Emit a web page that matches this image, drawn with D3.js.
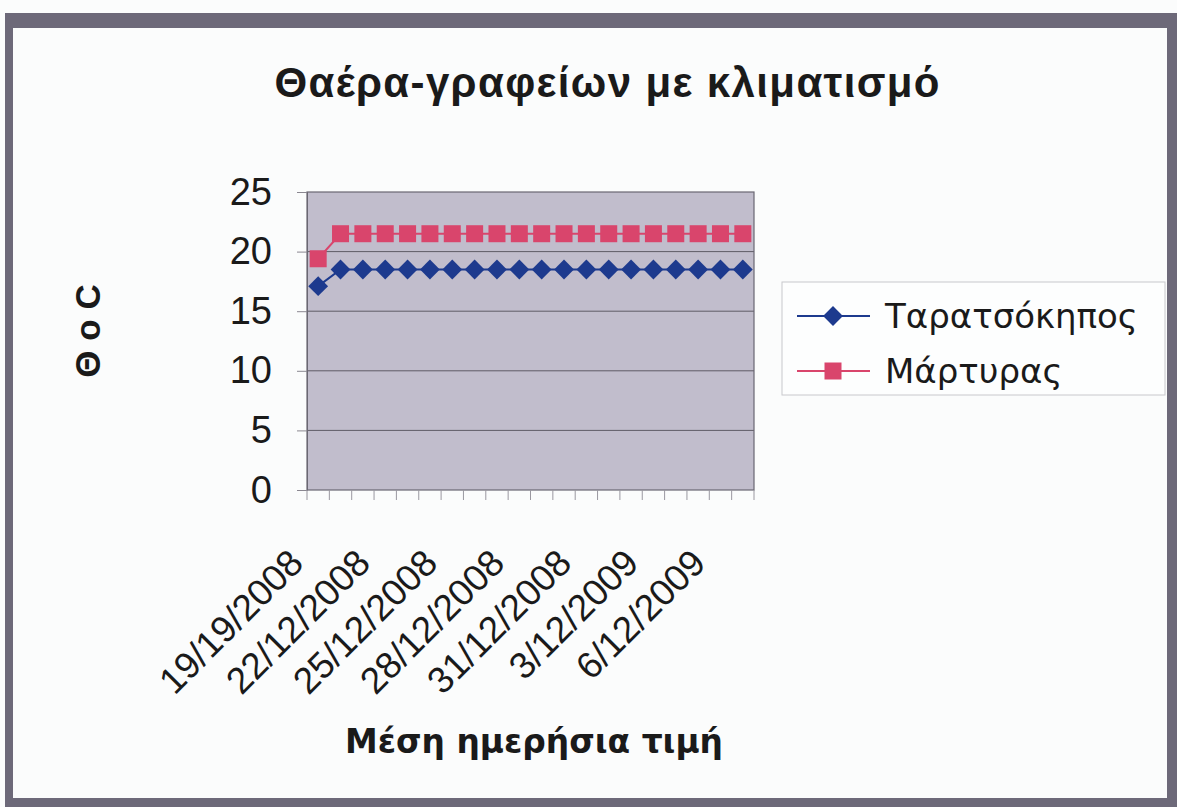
<!DOCTYPE html>
<html>
<head>
<meta charset="utf-8">
<script src="https://cdn.jsdelivr.net/npm/d3@7/dist/d3.min.js"></script>
<style>
  body { margin: 0; background: #fbfcfc; }
  text { fill: #1a1a1a; }
</style>
</head>
<body>
<div id="chart-area"></div>
<script>
// Data
var categories = ["19/19/2008", "20/12/2008", "21/12/2008", "22/12/2008", "23/12/2008",
    "24/12/2008", "25/12/2008", "26/12/2008", "27/12/2008", "28/12/2008",
    "29/12/2008", "30/12/2008", "31/12/2008", "1/12/2009", "2/12/2009",
    "3/12/2009", "4/12/2009", "5/12/2009", "6/12/2009", "7/12/2009"];
var tickLabels = ["19/19/2008", "22/12/2008", "25/12/2008", "28/12/2008",
    "31/12/2008", "3/12/2009", "6/12/2009"];
var taratsokipos = [17.1, 18.5, 18.5, 18.5, 18.5, 18.5, 18.5, 18.5, 18.5, 18.5,
    18.5, 18.5, 18.5, 18.5, 18.5, 18.5, 18.5, 18.5, 18.5, 18.5];
var martyras = [19.4, 21.5, 21.5, 21.5, 21.5, 21.5, 21.5, 21.5, 21.5, 21.5,
    21.5, 21.5, 21.5, 21.5, 21.5, 21.5, 21.5, 21.5, 21.5, 21.5];
var yTicks = [0, 5, 10, 15, 20, 25];
var seriesNames = ["Ταρατσόκηπος", "Μάρτυρας"];

var W = 1177, H = 807;
var plot = { left: 307, top: 192, right: 754, bottom: 490 };
var blue = "#1d3a8e", red = "#d9456c", frame = "#6d6979";

var svg = d3.select("#chart-area")
    .append("svg")
    .attr("width", W)
    .attr("height", H);

// outer frame (scanned chart border)
svg.append("rect").attr("x", 5).attr("y", 13).attr("width", 1172).attr("height", 15).attr("fill", frame);
svg.append("rect").attr("x", 5).attr("y", 13).attr("width", 8).attr("height", 794).attr("fill", frame);
svg.append("rect").attr("x", 1167).attr("y", 13).attr("width", 10).attr("height", 794).attr("fill", frame);
svg.append("rect").attr("x", 5).attr("y", 798).attr("width", 1172).attr("height", 9).attr("fill", frame);

// SCALES
var x = d3.scaleBand()
    .domain(categories)
    .range([plot.left, plot.right])
    .padding(0);

var y = d3.scaleLinear()
    .domain([0, 25])
    .range([plot.bottom, plot.top]);

var cx = function (d) { return x(d) + x.bandwidth() / 2; };

// plot area
svg.append("rect")
    .attr("x", plot.left)
    .attr("y", plot.top)
    .attr("width", plot.right - plot.left)
    .attr("height", plot.bottom - plot.top)
    .attr("fill", "#c1bdcc");

// gridlines
svg.selectAll(".grid")
    .data(yTicks.slice(1, -1))
    .enter()
    .append("line")
    .attr("x1", plot.left)
    .attr("x2", plot.right)
    .attr("y1", function (d) { return y(d); })
    .attr("y2", function (d) { return y(d); })
    .attr("stroke", "#5f5c66")
    .attr("stroke-width", 1);

svg.append("rect")
    .attr("x", plot.left)
    .attr("y", plot.top)
    .attr("width", plot.right - plot.left)
    .attr("height", plot.bottom - plot.top)
    .attr("fill", "none")
    .attr("stroke", "#6a6772")
    .attr("stroke-width", 1.2);

// Y axis
var yAxis = svg.append("g")
    .attr("transform", "translate(" + plot.left + ",0)")
    .call(d3.axisLeft(y).tickValues(yTicks).tickSize(10).tickPadding(25));
yAxis.select(".domain").attr("stroke", "#6a6772");
yAxis.selectAll(".tick line").attr("stroke", "#8a8790");
yAxis.selectAll(".tick text")
    .attr("font-family", "'Liberation Sans', Arial, sans-serif")
    .attr("font-size", 38)
    .attr("fill", "#222");

// X axis: tick marks at category boundaries
var boundaries = categories.map(function (d) { return x(d); }).concat([plot.right]);
svg.selectAll(".xtick")
    .data(boundaries)
    .enter()
    .append("line")
    .attr("x1", function (d) { return d; })
    .attr("x2", function (d) { return d; })
    .attr("y1", plot.bottom)
    .attr("y2", plot.bottom + 10)
    .attr("stroke", "#9a98a0");

// X axis labels
svg.selectAll(".xlabel")
    .data(tickLabels)
    .enter()
    .append("text")
    .attr("transform", function (d) {
        return "translate(" + (cx(d) - 22) + "," + (plot.bottom + 66) + ") rotate(-45)";
    })
    .attr("text-anchor", "end")
    .attr("dy", "0.35em")
    .attr("font-family", "'Liberation Sans', Arial, sans-serif")
    .attr("font-size", 37)
    .attr("fill", "#222")
    .text(function (d) { return d; });

// LINES
var line = d3.line()
    .x(function (d, i) { return cx(categories[i]); })
    .y(function (d) { return y(d); });

svg.append("path")
    .datum(martyras)
    .attr("d", line)
    .attr("fill", "none")
    .attr("stroke", red)
    .attr("stroke-width", 2);

svg.append("path")
    .datum(taratsokipos)
    .attr("d", line)
    .attr("fill", "none")
    .attr("stroke", blue)
    .attr("stroke-width", 2);

var sq = 17;
svg.selectAll(".sq")
    .data(martyras)
    .enter()
    .append("rect")
    .attr("x", function (d, i) { return cx(categories[i]) - sq / 2; })
    .attr("y", function (d) { return y(d) - sq / 2; })
    .attr("width", sq)
    .attr("height", sq)
    .attr("fill", red);

var diamond = d3.symbol().type(d3.symbolDiamond2).size(250);
svg.selectAll(".dm")
    .data(taratsokipos)
    .enter()
    .append("path")
    .attr("d", diamond)
    .attr("transform", function (d, i) {
        return "translate(" + cx(categories[i]) + "," + y(d) + ")";
    })
    .attr("fill", blue);

// Title
svg.append("text")
    .attr("x", 607)
    .attr("y", 97)
    .attr("text-anchor", "middle")
    .attr("font-family", "'Liberation Sans', Arial, sans-serif")
    .attr("font-weight", "bold")
    .attr("font-size", 42)
    .attr("textLength", 665)
    .attr("lengthAdjust", "spacing")
    .text("Θαέρα-γραφείων με κλιματισμό");

// axis titles
svg.append("text")
    .attr("x", 534)
    .attr("y", 753)
    .attr("text-anchor", "middle")
    .attr("font-family", "'DejaVu Sans', Verdana, sans-serif")
    .attr("font-weight", "bold")
    .attr("font-size", 33)
    .attr("textLength", 378)
    .attr("lengthAdjust", "spacingAndGlyphs")
    .text("Μέση ημερήσια τιμή");

svg.append("text")
    .attr("transform", "translate(100,331) rotate(-90)")
    .attr("text-anchor", "middle")
    .attr("font-family", "'Liberation Sans', Arial, sans-serif")
    .attr("font-weight", "bold")
    .attr("font-size", 35)
    .text("Θ ο C");

// Legend
var legend = svg.append("g");
legend.append("rect")
    .attr("x", 782)
    .attr("y", 282)
    .attr("width", 383)
    .attr("height", 113)
    .attr("fill", "#fdfefe")
    .attr("stroke", "#c8c8cc")
    .attr("stroke-width", 1);

var rows = [
    { name: seriesNames[0], color: blue, y: 316, marker: "diamond" },
    { name: seriesNames[1], color: red, y: 371, marker: "square" }
];
rows.forEach(function (r) {
    legend.append("line")
        .attr("x1", 797).attr("x2", 870)
        .attr("y1", r.y).attr("y2", r.y)
        .attr("stroke", r.color).attr("stroke-width", 2);
    if (r.marker === "diamond") {
        legend.append("path")
            .attr("d", diamond)
            .attr("transform", "translate(833," + r.y + ")")
            .attr("fill", r.color);
    } else {
        legend.append("rect")
            .attr("x", 833 - sq / 2).attr("y", r.y - sq / 2)
            .attr("width", sq).attr("height", sq)
            .attr("fill", r.color);
    }
    legend.append("text")
        .attr("x", 885)
        .attr("y", r.y)
        .attr("dy", "0.36em")
        .attr("font-family", "'DejaVu Sans', Verdana, sans-serif")
        .attr("font-size", 34)
        .text(r.name);
});
</script>
</body>
</html>
